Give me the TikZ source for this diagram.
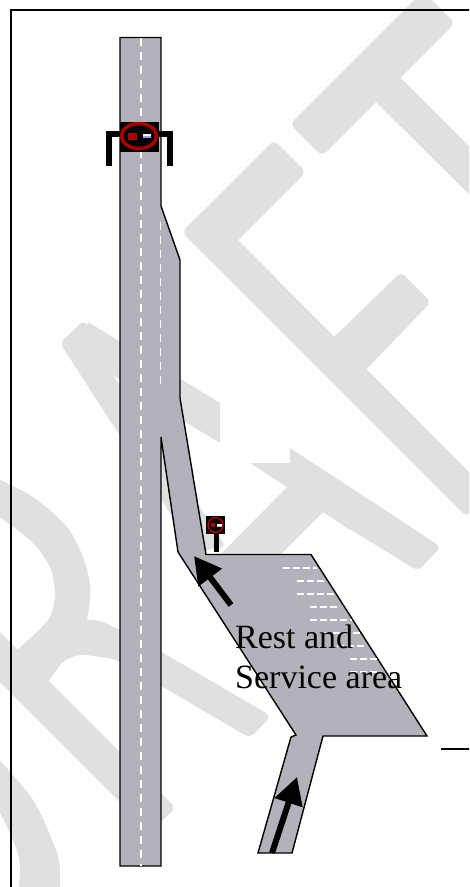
\documentclass[tikz,border=0pt]{standalone}
\usepackage{fontspec}
\setmainfont{Liberation Serif}
\usetikzlibrary{arrows.meta}
\definecolor{roadgrey}{RGB}{178,178,186}
\definecolor{wmgrey}{RGB}{224,224,224}
\definecolor{signred}{RGB}{170,0,0}
\tikzset{
wmark/.style={fill=wmgrey,rounded corners=6pt},
wmsharp/.style={fill=wmgrey},
roadway/.style={draw=black,line width=1.4pt,fill=roadgrey,line join=miter},
laneline/.style={draw=white,line width=1.5pt,dash pattern=on 8pt off 6pt},
hatchline/.style={draw=white,line width=1.3pt,dash pattern=on 7pt off 3pt},
bigarrow/.style={-{Triangle[length=27pt,width=28pt]},line width=6pt,black},
gantry/.style={draw=black,line width=6pt},
postline/.style={draw=black,line width=5pt},
rimline/.style={draw=signred,fill=black},
areatext/.style={font=\fontsize{34}{40}\selectfont,inner sep=0pt,anchor=base west}
}
\begin{document}
\begin{tikzpicture}[x=1pt,y=-1pt]
\useasboundingbox (0,0) rectangle (469,887);
\clip (0,0) rectangle (469,887);

\fill[wmark] (423,-9) -- (455,23) -- (322,156) -- (290,124) -- cycle;
\fill[wmsharp] (385,62) -- (520,197) -- (520,245) -- (361,87) -- cycle;

\fill[wmark] (274,140) -- (306,172) -- (214,264) -- (182,232) -- cycle;
\fill[wmark] (182,232) -- (206,208) -- (492,495) -- (467,517) -- cycle;
\fill[wmark] (401,272) -- (431,302) -- (360,376) -- (327,344) -- cycle;

\fill[wmark] (84,320) -- (60,343) -- (195,552) -- (226,547) -- (113,375) -- cycle;
\fill[wmsharp] (88,322) -- (220,403) -- (220,443) -- (187,423) -- (113,375) -- (80,345) -- cycle;
\fill[wmsharp] (250,463) -- (290,463) -- (290,448) -- (380,507) -- (350,530) -- (323,512) -- (287,487) -- cycle;
\fill[wmark] (370,500) -- (441,547) -- (418,571) -- (340,523) -- cycle;
\fill[wmsharp] (287,487) -- (323,512) -- (270,565) -- (215,560) -- cycle;

\fill[wmsharp] plot[smooth] coordinates {(-8,476) (33,497) (67,527) (83,557) (90,583) (90,600) (87,620)}
  -- plot[smooth] coordinates {(87,620) (100,621) (120,630) (160,651)}
  [rounded corners=6pt] -- (271,716) -- (250,738) [sharp corners]
  -- plot[smooth] coordinates {(163,687) (120,662) (100,657) (80,655) (63,662) (49,681)}
  -- (17,650)
  -- plot[smooth] coordinates {(17,650) (37,632) (50,617) (55,597) (55,590) (50,567) (33,543) (0,517) (-8,512)}
  -- cycle;
\fill[wmark] (-40,592) -- (176,808) -- (150,832) -- (-40,642) -- cycle;

\fill[wmsharp] plot[smooth] coordinates {(-8,752) (33,800) (57,853) (60,877) (60,895)}
  -- plot[smooth] coordinates {(18,895) (20,864) (13,840) (0,813) (-8,803)} -- cycle;

\draw[black,line width=1.4pt] (475,10) -- (11,10) -- (11,893);
\draw[black,line width=1.2pt] (441,749) -- (475,749);

\draw[roadway] (120,37.5) -- (161,37.5) -- (161,206) -- (180,260) -- (180,398) -- (206,554.5)
  -- (311,554.5) -- (427,736) -- (323,736) -- (292,853) -- (258,853) -- (291,737) -- (296,735)
  -- (178,552) -- (161,437) -- (161,866) -- (120,866) -- cycle;

\draw[laneline] (141,38) -- (141,866);
\draw[laneline] (160.5,222) -- (160.5,388);

\draw[hatchline] (283,568) -- (317,568);
\draw[hatchline] (297,581) -- (325,581);
\draw[hatchline] (297,594) -- (335,594);
\draw[hatchline] (310,607) -- (340,607);
\draw[hatchline] (310,620) -- (352,620);
\draw[hatchline] (323,633) -- (360,633);
\draw[hatchline] (337,646) -- (367,646);
\draw[hatchline] (350,659) -- (378,659);
\draw[hatchline] (350,672) -- (380,672);

\fill[black] (120,122) rectangle (159,152);
\draw[gantry] (120,133.5) -- (109,133.5) -- (109,166);
\draw[gantry] (159,133.5) -- (170,133.5) -- (170,166);
\draw[rimline,line width=3.5pt] (139,136) ellipse (17.5pt and 12.5pt);
\fill[signred] (127.5,132.5) rectangle (136.5,139.5);
\fill[white] (143,134) rectangle (151,136);
\fill[blue!40] (143,136) rectangle (151,138);

\fill[black] (206,516) rectangle (225,534);
\draw[postline] (216,534) -- (216,552);
\draw[rimline,line width=1.5pt] (215.5,525) circle (7.5pt);
\fill[signred] (213,525) circle (2.5pt);
\fill[white] (217,524) rectangle (222,525.5);
\fill[cyan!50] (217,525.5) rectangle (222,527);

\coordinate (tailnorth) at (231,605);
\coordinate (tipnorth) at (194,556);
\coordinate (tailsouth) at (272,853);
\coordinate (tipsouth) at (297,777);
\draw[bigarrow] (tailnorth) -- (tipnorth);
\draw[bigarrow] (tailsouth) -- (tipsouth);

\node[areatext] (restlabel) at (235,648) {Rest and};
\node[areatext] (servicelabel) at (235,688) {Service area};
\end{tikzpicture}
\end{document}
